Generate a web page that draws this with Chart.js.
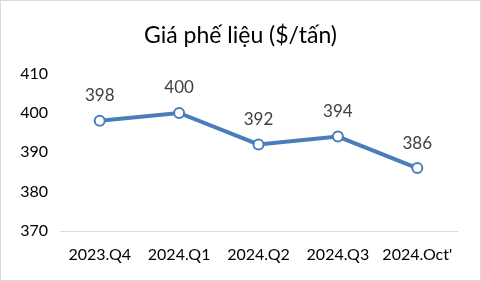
<!DOCTYPE html>
<html>
<head>
<meta charset="utf-8">
<script src="https://cdn.jsdelivr.net/npm/chart.js@4"></script>
<style>
  body { margin: 0; background: #fff; }
  #wrap { width: 481px; height: 281px; }
</style>
</head>
<body>
<div id="wrap"><canvas id="scrapChart" width="481" height="281"></canvas></div>
<script>
// Chart values
const categories = ['2023.Q4', '2024.Q1', '2024.Q2', '2024.Q3', "2024.Oct'"];
const prices = [398, 400, 392, 394, 386];
const yTicks = [370, 380, 390, 400, 410];

const fontName = 'Lato, "Open Sans", sans-serif';

// Draw value labels above each point
const pointLabels = {
  id: 'pointLabels',
  afterDatasetsDraw(chart) {
    const ctx = chart.ctx;
    const meta = chart.getDatasetMeta(0);
    ctx.save();
    ctx.font = '17px ' + fontName;
    ctx.fillStyle = '#404040';
    ctx.textAlign = 'center';
    ctx.textBaseline = 'middle';
    meta.data.forEach((pt, i) => {
      ctx.fillText(prices[i], pt.x, pt.y - 25);
    });
    ctx.restore();
  }
};

// Light grey frame round the whole chart
const frame = {
  id: 'frame',
  afterDraw(chart) {
    const ctx = chart.ctx;
    ctx.save();
    ctx.strokeStyle = '#d9d9d9';
    ctx.lineWidth = 1;
    ctx.strokeRect(0.5, 0.5, chart.width - 1, chart.height - 1);
    ctx.restore();
  }
};

new Chart(document.getElementById('scrapChart'), {
  type: 'line',
  data: {
    labels: categories,
    datasets: [{
      data: prices,
      borderColor: '#4a7ebb',
      borderWidth: 4,
      pointRadius: 5,
      pointBackgroundColor: '#ffffff',
      pointBorderColor: '#4a7ebb',
      pointBorderWidth: 2,
      tension: 0
    }]
  },
  options: {
    responsive: false,
    animation: false,
    layout: { padding: 0 },
    plugins: {
      legend: { display: false },
      tooltip: { enabled: false },
      title: {
        display: true,
        text: 'Giá phế liệu ($/tấn)',
        color: '#000000',
        font: { family: fontName, size: 23, weight: 'normal' },
        padding: { top: 22, bottom: 24 }
      }
    },
    scales: {
      x: {
        offset: true,
        grid: { display: false, drawTicks: false },
        border: { display: true, color: '#d9d9d9', width: 1 },
        ticks: {
          color: '#000000',
          padding: 14,
          maxRotation: 0,
          font: { family: fontName, size: 16 }
        },
        afterFit(scale) { scale.height = 50; }
      },
      y: {
        min: 370,
        max: 410,
        grid: { display: false, drawTicks: false },
        border: { display: false },
        afterBuildTicks(scale) { scale.ticks = yTicks.map(v => ({ value: v })); },
        ticks: {
          color: '#000000',
          padding: 12,
          font: { family: fontName, size: 16 }
        },
        afterFit(scale) { scale.width = 60; }
      },
      // empty right-hand spacer so the title stays centred on the whole chart
      yRight: {
        position: 'right',
        min: 370,
        max: 410,
        grid: { display: false },
        border: { display: false },
        ticks: { display: false },
        afterFit(scale) { scale.width = 24; }
      }
    }
  },
  plugins: [pointLabels, frame]
});
</script>
</body>
</html>
